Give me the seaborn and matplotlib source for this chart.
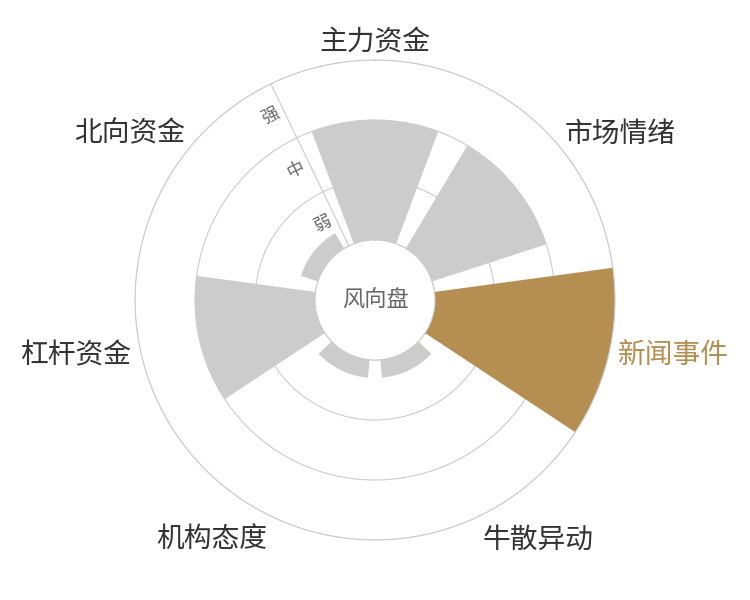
import numpy as np
import pandas as pd
import seaborn as sns
import matplotlib.pyplot as plt

categories = ["主力资金", "市场情绪", "新闻事件", "牛散异动", "机构态度", "杠杆资金", "北向资金"]
values = [2.0, 2.0, 3.0, 0.3, 0.3, 2.0, 0.3]
highlight = "新闻事件"
level_labels = ["弱", "中", "强"]

sns.set_style("white")
plt.rcParams['font.family'] = ['Noto Sans CJK SC', 'DejaVu Sans']

gray = "#cccccc"
gold = "#b58f52"
n = len(categories)
step = 2 * np.pi / n
theta = np.arange(n) * step

df = pd.DataFrame({"theta": theta, "value": values, "cat": categories})
palette = {c: (gold if c == highlight else gray) for c in categories}

fig = plt.figure(figsize=(7.5, 6), dpi=100)
ax = fig.add_axes([0.18, 0.1, 0.64, 0.8], projection="polar")
ax.set_theta_zero_location("N")
ax.set_theta_direction(-1)

sns.barplot(data=df, x="theta", y="value", hue="cat", palette=palette,
            native_scale=True, width=0.8, errorbar=None, legend=False,
            saturation=1, linewidth=0, ax=ax)

ax.set_xlim(0, 2 * np.pi)
ax.set_ylim(0, 3)
ax.set_rorigin(-1)
ax.set_axisbelow(True)
ax.set_xlabel("")
ax.set_ylabel("")

# radial axis line sits on the boundary between 北向资金 and 主力资金
start = -step / 2
ax.set_xticks([start % (2 * np.pi)])
ax.set_xticklabels([])
ax.set_yticks([0, 1, 2, 3])
ax.set_yticklabels([])
ax.tick_params(length=0)
ax.grid(True, color="#cccccc", linewidth=0.8)
for sp in ("polar", "inner"):
    ax.spines[sp].set_color("#cccccc")
    ax.spines[sp].set_linewidth(0.8)

for lab, a in zip(level_labels, [0.5, 1.5, 2.5]):
    ax.annotate(lab, xy=(start, a), xytext=(-14, -5), textcoords="offset pixels",
                ha="center", va="center", rotation=np.degrees(step / 2),
                fontsize=12.5, color="#666666")

for cat, t in zip(categories, theta):
    s, c = np.sin(t), np.cos(t)
    ha = "left" if s > 0.1 else ("right" if s < -0.1 else "center")
    va = "bottom" if c > 0.5 else ("top" if c < -0.5 else "center")
    r = 3.05 if va == "bottom" else 3.15
    ax.text(t, r, cat, ha=ha, va=va, fontsize=20,
            color=gold if cat == highlight else "#333333")

ax.text(0, -1, "风向盘", ha="center", va="center", fontsize=16, color="#666666")

fig.savefig("out.png", dpi=100)
